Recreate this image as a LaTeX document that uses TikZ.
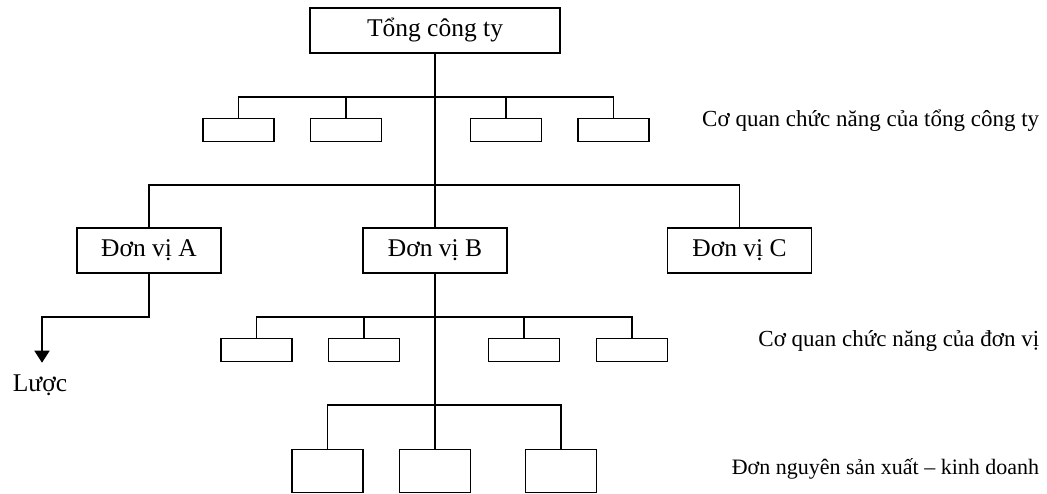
\documentclass[tikz,border=0pt]{standalone}
\usepackage{fontspec}
\setmainfont{Liberation Serif}
\usetikzlibrary{arrows.meta}

\begin{document}
\begin{tikzpicture}[x=1pt, y=-1pt, line width=1.6pt,
    box/.style={draw, rectangle, inner sep=0pt, font=\fontsize{25.5}{30}\selectfont},
    big/.style={box, minimum width=144pt, minimum height=45pt},
    small/.style={box, minimum width=71pt, minimum height=23pt},
    unit/.style={box, minimum width=71pt, minimum height=43pt},
    caption/.style={anchor=east, inner sep=0pt, font=\fontsize{23}{27}\selectfont}]
\useasboundingbox (0,0) rectangle (1047,493);

% top level
\node [box, minimum width=250pt, minimum height=45pt] (top) at (435,30.5) {Tổng công ty};

\node [small] (c1) at (238.5,130) {};
\node [small] (c2) at (346,130) {};
\node [small] (c3) at (506,130) {};
\node [small] (c4) at (613.5,130) {};
\node [caption] (lab1) at (1040,121) {Cơ quan chức năng của tổng công ty};

\node [big] (A) at (149,250.5) {Đơn vị A};
\node [big] (B) at (435,250.5) {Đơn vị B};
\node [big] (C) at (739.5,250.5) {Đơn vị C};

\node [small] (e1) at (256.5,350) {};
\node [small] (e2) at (364,350) {};
\node [small] (e3) at (524,350) {};
\node [small] (e4) at (632,350) {};
\node [caption] (lab2) at (1040,341) {Cơ quan chức năng của đơn vị};

\node [unit] (d1) at (327.5,471) {};
\node [unit] (d2) at (435,471) {};
\node [unit] (d3) at (561,471) {};
\node [caption, font=\fontsize{22}{26}\selectfont] (lab3) at (1040,469) {Đơn nguyên sản xuất – kinh doanh};

\node [inner sep=0pt, font=\fontsize{25.5}{30}\selectfont] (luoc) at (40,385) {Lược};

% junctions
\coordinate (j1) at (435,97);
\coordinate (j2) at (435,185);
\coordinate (j3) at (435,317);
\coordinate (j4) at (435,405);
\coordinate (j5) at (42,317);

% connectors
\draw (top.south) -- (B.north);
\foreach \n in {c1,c2,c3,c4} \draw (j1) -| (\n.north);
\foreach \n in {A,C} \draw (j2) -| (\n.north);
\draw (B.south) -- (d2.north);
\foreach \n in {e1,e2,e3,e4} \draw (j3) -| (\n.north);
\foreach \n in {d1,d3} \draw (j4) -| (\n.north);
\draw [-{Triangle[length=12pt,width=15pt]}, shorten >=11pt] (A.south) |- (j5) -- (j5 |- luoc.north);
\end{tikzpicture}
\end{document}
